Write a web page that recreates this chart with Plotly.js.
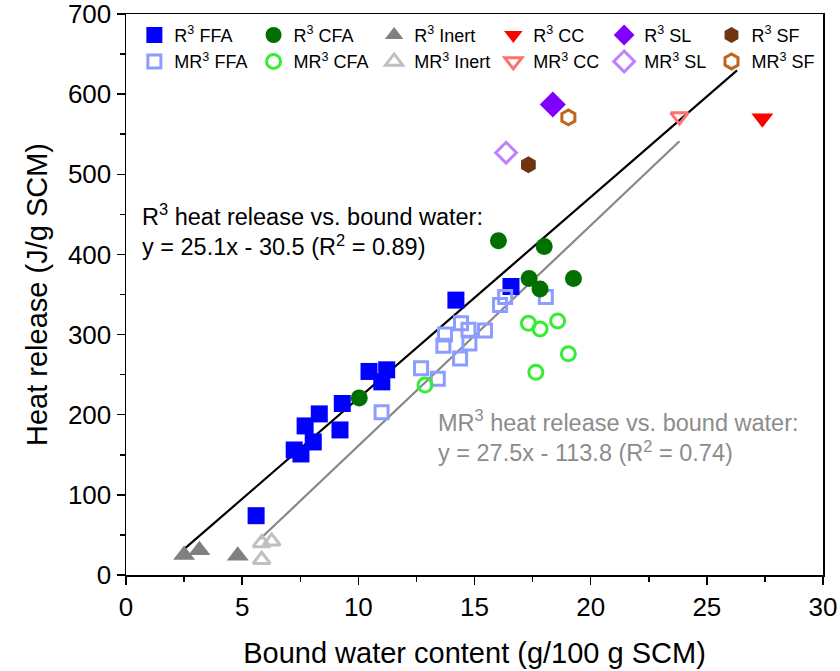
<!DOCTYPE html>
<html>
<head>
<meta charset="utf-8">
<script src="https://cdn.plot.ly/plotly-3.0.1.min.js"></script>
<style>html,body{margin:0;padding:0;background:#fff;}#chart{width:840px;height:671px;}</style>
</head>
<body>
<div id="chart"></div>
<script>
// ---- Data ----
var r3ffaX = [5.6, 7.24, 7.53, 8.06, 7.71, 8.32, 9.21, 9.31, 10.46, 11.22, 11.01, 14.2, 16.57];
var r3ffaY = [74, 156, 151, 166, 186, 201, 181, 214, 254, 256, 241, 343, 360];
var mr3ffaX = [11.0, 12.7, 13.42, 13.66, 13.73, 14.42, 14.74, 14.78, 14.38, 15.45, 16.1, 16.32, 18.07];
var mr3ffaY = [203, 258, 245, 286, 300, 314, 306, 289, 270, 305, 337, 347, 347];
var r3cfaX = [10.04, 16.03, 18.0, 17.35, 17.82, 19.26];
var r3cfaY = [221, 417, 410, 370, 357, 370];
var mr3cfaX = [12.87, 17.32, 17.82, 18.58, 19.04, 17.64];
var mr3cfaY = [237, 314, 307, 317, 276, 253];
var r3inertX = [2.5, 3.16, 4.81];
var r3inertY = [25, 31, 24];
var mr3inertX = [5.84, 6.27, 5.84];
var mr3inertY = [40, 42, 19];
var r3ccX = [27.39], r3ccY = [570];
var mr3ccX = [23.82], mr3ccY = [572];
var r3slX = [18.37], r3slY = [587];
var mr3slX = [16.36], mr3slY = [527];
var r3sfX = [17.32], r3sfY = [512];
var mr3sfX = [19.04], mr3sfY = [571];

// fitted lines (from the equations printed on the chart)
var fitR3 = {slope: 25.1, intercept: -30.5, xRange: [2.5, 26.3]};
var fitMR3 = {slope: 27.5, intercept: -113.8, xRange: [5.77, 23.82]};

var xTicks = [0, 5, 10, 15, 20, 25, 30];
var yTicks = [0, 100, 200, 300, 400, 500, 600, 700];

var FONT = 'Liberation Sans, Arial, sans-serif';

function pts(name, x, y, symbol, color, size, open, legendId) {
  var m = {symbol: symbol, size: size, color: color};
  if (open) { m.line = {color: color, width: 3}; }
  else { m.line = {width: 0}; }
  return {type: 'scatter', mode: 'markers', name: name, x: x, y: y, marker: m,
          cliponaxis: false, legend: legendId};
}
function fitLine(f, color) {
  var xs = f.xRange.slice();
  var ys = xs.map(function (v) { return f.slope * v + f.intercept; });
  return {type: 'scatter', mode: 'lines', x: xs, y: ys, showlegend: false,
          line: {color: color, width: 2.2}, hoverinfo: 'skip'};
}

var data = [
  fitLine(fitR3, '#000000'),
  fitLine(fitMR3, '#888888'),
  pts('R<sup>3</sup> FFA', r3ffaX, r3ffaY, 'square', '#0000ff', 17, false, 'legend'),
  pts('MR<sup>3</sup> FFA', mr3ffaX, mr3ffaY, 'square-open', '#8c9cff', 13, true, 'legend'),
  pts('R<sup>3</sup> CFA', r3cfaX, r3cfaY, 'circle', '#007000', 17, false, 'legend2'),
  pts('MR<sup>3</sup> CFA', mr3cfaX, mr3cfaY, 'circle-open', '#33ee33', 14, true, 'legend2'),
  pts('R<sup>3</sup> Inert', r3inertX, r3inertY, 'triangle-up', '#808080', 19, false, 'legend3'),
  pts('MR<sup>3</sup> Inert', mr3inertX, mr3inertY, 'triangle-up-open', '#c0c0c0', 15, true, 'legend3'),
  pts('R<sup>3</sup> CC', r3ccX, r3ccY, 'triangle-down', '#ff0000', 19, false, 'legend4'),
  pts('MR<sup>3</sup> CC', mr3ccX, mr3ccY, 'triangle-down-open', '#ff7070', 15, true, 'legend4'),
  pts('R<sup>3</sup> SL', r3slX, r3slY, 'diamond', '#8000ff', 20, false, 'legend5'),
  pts('MR<sup>3</sup> SL', mr3slX, mr3slY, 'diamond-open', '#c080ff', 16, true, 'legend5'),
  pts('R<sup>3</sup> SF', r3sfX, r3sfY, 'hexagon', '#6e3510', 17, false, 'legend6'),
  pts('MR<sup>3</sup> SF', mr3sfX, mr3sfY, 'hexagon-open', '#c0661a', 15, true, 'legend6')
];

function legendAt(x) {
  return {orientation: 'v', x: x, xanchor: 'left', y: 0.995, yanchor: 'top',
          bgcolor: 'rgba(0,0,0,0)', borderwidth: 0, traceorder: 'normal',
          font: {family: FONT, size: 18, color: '#000'}};
}

var axisCommon = {
  showline: true, linecolor: '#000', linewidth: 1.5, mirror: true,
  ticks: 'outside', ticklen: 8, tickwidth: 1.5, tickcolor: '#000',
  showgrid: false, zeroline: false, ticklabeloverflow: 'allow',
  tickfont: {family: FONT, size: 26, color: '#000'},
  minor: {ticks: 'outside', ticklen: 5, tickwidth: 1.5, tickcolor: '#000', showgrid: false}
};

var layout = {
  width: 840, height: 671,
  margin: {l: 126, r: 17, t: 14, b: 96, autoexpand: false},
  paper_bgcolor: '#fff', plot_bgcolor: '#fff',
  font: {family: FONT, color: '#000'},
  showlegend: true,
  legend: legendAt(0.012),
  legend2: legendAt(0.183),
  legend3: legendAt(0.356),
  legend4: legendAt(0.527),
  legend5: legendAt(0.686),
  legend6: legendAt(0.840),
  xaxis: Object.assign({}, axisCommon, {
    range: [0, 30], tickmode: 'array', tickvals: xTicks, ticktext: xTicks.map(String),
    minor: Object.assign({}, axisCommon.minor, {dtick: 2.5, tick0: 0}),
    title: {text: 'Bound water content (g/100 g SCM)', standoff: 22,
            font: {family: FONT, size: 29, color: '#000'}}
  }),
  yaxis: Object.assign({}, axisCommon, {
    range: [0, 700], tickmode: 'array', tickvals: yTicks, ticktext: yTicks.map(String),
    minor: Object.assign({}, axisCommon.minor, {dtick: 50, tick0: 0}),
    title: {text: 'Heat release (J/g SCM)', standoff: 12,
            font: {family: FONT, size: 29, color: '#000'}}
  }),
  annotations: [
    {xref: 'x', yref: 'y', x: 0.6, y: 471, xanchor: 'left', yanchor: 'top', align: 'left',
     showarrow: false,
     text: 'R<sup>3</sup> heat release vs. bound water:<br>y = 25.1x - 30.5 (R<sup>2</sup> = 0.89)',
     font: {family: FONT, size: 23.5, color: '#000'}},
    {xref: 'x', yref: 'y', x: 13.35, y: 213, xanchor: 'left', yanchor: 'top', align: 'left',
     showarrow: false,
     text: 'MR<sup>3</sup> heat release vs. bound water:<br>y = 27.5x - 113.8 (R<sup>2</sup> = 0.74)',
     font: {family: FONT, size: 23.5, color: '#8c8c8c'}}
  ]
};

Plotly.newPlot('chart', data, layout, {displayModeBar: false, staticPlot: true});
</script>
</body>
</html>
